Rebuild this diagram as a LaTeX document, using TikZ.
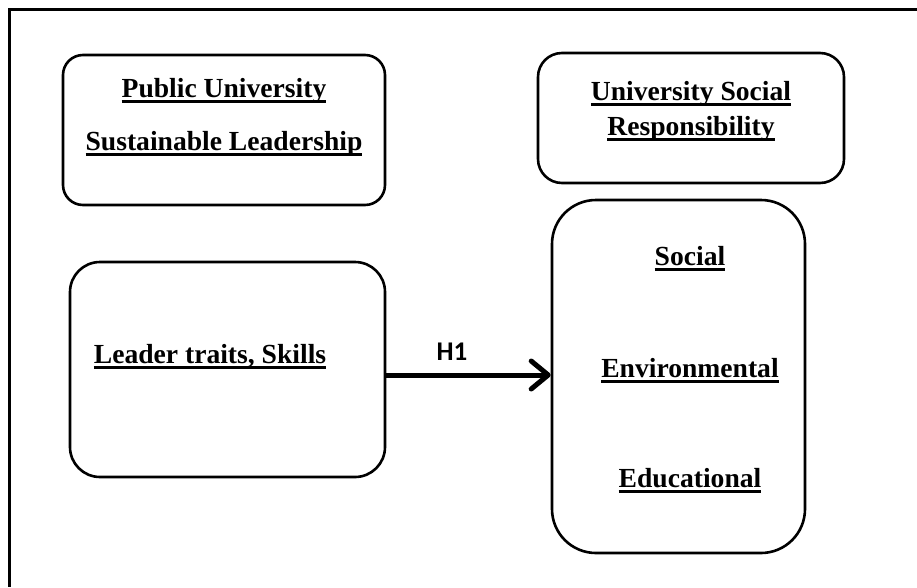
\documentclass[tikz,border=0pt]{standalone}
\usepackage{fontspec}
\setmainfont{Liberation Serif}
\newfontfamily\labelfont{Carlito}
\usetikzlibrary{arrows.meta}

% bold text with a rule at a fixed depth below the baseline
\newcommand\ultext[1]{\setbox0\hbox{#1}\rlap{\rule[-0.2em]{\wd0}{0.075em}}\box0}

\tikzset{
  frame/.style={line width=3.5pt},
  box/.style={draw, line width=2.6pt, inner sep=0pt},
  boxtext/.style={anchor=base, inner sep=0pt,
    font=\fontsize{27.6}{32}\selectfont\bfseries},
  h1label/.style={inner sep=0pt, font=\labelfont\fontsize{27}{32}\selectfont\bfseries},
  link/.style={line width=5pt, -{Straight Barb[length=17pt,width=28pt,round]}}
}

\begin{document}
\begin{tikzpicture}[x=1pt, y=-1pt]
  \useasboundingbox (0,0) rectangle (917,587);

  % outer frame (top and left edges)
  \draw[frame] (917,9.5) -- (9.5,9.5) -- (9.5,587);

  % boxes
  \node[box, rounded corners=20pt, minimum width=322pt, minimum height=150pt] (pusl) at (224,130) {};
  \node[box, rounded corners=24pt, minimum width=306pt, minimum height=130pt] (usr) at (691,118) {};
  \node[box, rounded corners=30pt, minimum width=315pt, minimum height=215pt] (lead) at (227.5,369.5) {};
  \node[box, rounded corners=44pt, minimum width=253pt, minimum height=353pt] (dims) at (678.5,376.5) {};

  % box texts
  \node[boxtext] (pusl1) at (224,97) {\ultext{Public University}};
  \node[boxtext] (pusl2) at (224,150) {\ultext{Sustainable Leadership}};
  \node[boxtext] (usr1) at (691,100) {\ultext{University Social}};
  \node[boxtext] (usr2) at (691,135) {\ultext{Responsibility}};
  \node[boxtext] (lead1) at (210,363) {\ultext{Leader traits, Skills}};
  \node[boxtext] (dim1) at (690,265) {\ultext{Social}};
  \node[boxtext] (dim2) at (690,377) {\ultext{Environmental}};
  \node[boxtext] (dim3) at (690,487) {\ultext{Educational}};

  % hypothesis arrow
  \draw[link] ([yshift=-5.5pt]lead.east) -- ([yshift=1.5pt]dims.west)
    node[h1label, pos=0.4, above=12.5pt] (h1) {H1};
\end{tikzpicture}
\end{document}
